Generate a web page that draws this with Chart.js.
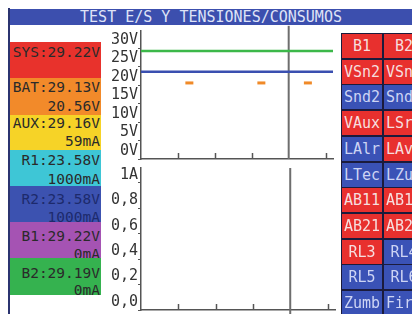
<!DOCTYPE html>
<html>
<head>
<meta charset="utf-8">
<script src="https://cdn.jsdelivr.net/npm/chart.js@4.4.0/dist/chart.umd.min.js"></script>
<style>
html, body { margin: 0; padding: 0; background: #fff; }
body { width: 412px; height: 314px; position: relative; overflow: hidden; font-family: "DejaVu Sans Mono", monospace; }
#frame { position: absolute; left: 8px; top: 8px; width: 2px; height: 306px; background: #2b3470; }
#title { position: absolute; left: 10px; top: 9px; width: 402px; height: 16px; background: #3c4fae; color: #dfe3f7; font-size: 15px; line-height: 16px; text-align: center; white-space: pre; }
.box { position: absolute; left: 10px; width: 91px; }
.box span { position: absolute; right: 1px; font-size: 14.5px; line-height: 15px; color: #2a2a2a; white-space: pre; }
.wrap { position: absolute; left: 100px; width: 240px; }
#topWrap { top: 24px; height: 142px; }
#botWrap { top: 164px; height: 150px; }
.btn { position: absolute; width: 40px; height: 24px; border: 1px solid #1b1b3c; font-size: 15px; line-height: 24px; text-align: center; white-space: pre; overflow: hidden; }
</style>
</head>
<body>
<div id="frame"></div>
<div id="title">TEST E/S Y TENSIONES/CONSUMOS</div>
<div id="chan"></div>
<div class="wrap" id="topWrap"><canvas id="topChart"></canvas></div>
<div class="wrap" id="botWrap"><canvas id="botChart"></canvas></div>
<div id="btns"></div>
<script>
// channel panel
const chNames = ["SYS", "BAT", "AUX", "R1", "R2", "B1", "B2"];
const chVolts = ["29.22V", "29.13V", "29.16V", "23.58V", "23.58V", "29.22V", "29.19V"];
const chExtra = ["", "20.56V", "59mA", "1000mA", "1000mA", "0mA", "0mA"];
const chColors = ["#e8322c", "#f28a2a", "#f6d327", "#3ec6d6", "#3c52b0", "#a553b3", "#35b24f"];

// top chart (volts)
const vTicks = [0, 5, 10, 15, 20, 25, 30];
const vLabels = ["0V", "5V", "10V", "15V", "20V", "25V", "30V"];
const xTicks = [1, 2, 3, 5];
const cursorX = 4;
const greenLevel = 29.22;
const blueLevel = 23.58;
const batLevel = 20.56;
const batMarks = [1.31, 3.26, 4.52];

// bottom chart (amps)
const aTicks = [0, 0.2, 0.4, 0.6, 0.8, 1];
const aLabels = ["0,0", "0,2", "0,4", "0,6", "0,8", "1A"];

// buttons
const btnLeft = ["B1", "VSn2", "Snd2", "VAux", "LAlr", "LTec", "AB11", "AB21", "RL3", "RL5", "Zumb"];
const btnRight = ["B2", "VSn1", "Snd1", "LSrn", "LAvr", "LZum", "AB12", "AB22", "RL4", "RL6", "Fire"];
const leftRed = [1, 1, 0, 1, 0, 0, 1, 1, 1, 0, 0];
const rightRed = [1, 1, 0, 1, 1, 0, 1, 1, 0, 0, 0];

// --- left panel
const boxTop = [42, 78, 115, 150, 186, 222, 258, 295];
const line1 = [52.5, 87, 123, 160.5, 199, 236.5, 273];
const line2 = [0, 106, 141.5, 179, 217, 254, 290];
const chan = document.getElementById("chan");
chNames.forEach((n, i) => {
    const b = document.createElement("div");
    b.className = "box";
    b.style.top = boxTop[i] + "px";
    b.style.height = (boxTop[i + 1] - boxTop[i]) + "px";
    b.style.background = chColors[i];
    const txtColor = i === 4 ? "#1d2a6c" : "#2a2a2a";
    b.innerHTML = `<span style="top:${line1[i] - boxTop[i] - 7.5}px;color:${txtColor}">${n}:${chVolts[i]}</span>` +
        (chExtra[i] ? `<span style="top:${line2[i] - boxTop[i] - 7.5}px;color:${txtColor}">${chExtra[i]}</span>` : "");
    chan.appendChild(b);
});

// --- buttons
const btns = document.getElementById("btns");
btnLeft.forEach((t, i) => {
    [[t, leftRed[i], 341], [btnRight[i], rightRed[i], 383]].forEach(([txt, red, x]) => {
        const d = document.createElement("div");
        d.className = "btn";
        d.textContent = txt;
        d.style.left = x + "px";
        d.style.top = (33 + i * 25.7) + "px";
        d.style.background = red ? "#e8302e" : "#3a52b6";
        d.style.color = red ? "#f6dede" : "#cdd4f4";
        btns.appendChild(d);
    });
});

// --- charts
const axisColor = "#555";

const upTicks = {
    id: "upTicks",
    afterDatasetsDraw(chart) {
        const { ctx, scales: { x }, chartArea } = chart;
        ctx.save();
        ctx.strokeStyle = axisColor;
        ctx.lineWidth = 1.5;
        xTicks.forEach(v => {
            const px = Math.round(x.getPixelForValue(v)) + 0.5;
            ctx.beginPath();
            ctx.moveTo(px, chartArea.bottom);
            ctx.lineTo(px, chartArea.bottom - 6);
            ctx.stroke();
        });
        ctx.restore();
    }
};

function makeOptions(yMax, ticks, labels) {
    return {
        responsive: true,
        maintainAspectRatio: false,
        animation: false,
        layout: { padding: { top: 4, right: 5, left: 0, bottom: 0 } },
        plugins: { legend: { display: false }, tooltip: { enabled: false } },
        scales: {
            x: {
                type: "linear",
                min: 0,
                max: 5.2,
                grid: { display: false },
                border: { display: true, color: axisColor, width: 1.5 },
                ticks: { display: false },
                afterFit: s => { s.height = 4; s.paddingLeft = 0; s.paddingRight = 0; }
            },
            y: {
                type: "linear",
                min: 0,
                max: yMax,
                afterBuildTicks: s => { s.ticks = ticks.map(v => ({ value: v })); },
                grid: { display: true, drawOnChartArea: false, drawTicks: true, tickLength: 3, color: axisColor, lineWidth: 1 },
                border: { display: true, color: axisColor, width: 1.5 },
                ticks: {
                    autoSkip: false,
                    padding: 0,
                    labelOffset: -8,
                    color: "#333",
                    font: { family: "DejaVu Sans Mono", size: 15 },
                    callback: v => labels[ticks.indexOf(v)]
                },
                afterFit: s => { s.width = 41; s.paddingTop = 0; s.paddingBottom = 0; }
            }
        }
    };
}

new Chart(document.getElementById("topChart"), {
    type: "line",
    data: {
        datasets: [
            { data: [{ x: 0, y: greenLevel }, { x: 5.2, y: greenLevel }], borderColor: "#3cb84a", borderWidth: 2.5, pointRadius: 0 },
            { data: [{ x: 0, y: blueLevel }, { x: 5.2, y: blueLevel }], borderColor: "#3a4fb0", borderWidth: 2.5, pointRadius: 0 },
            { data: batMarks.map(x => ({ x, y: batLevel })), showLine: false, pointStyle: "line", pointRadius: 4, borderWidth: 3, borderColor: "#f08a28" },
            { data: [{ x: cursorX, y: 0 }, { x: cursorX, y: 36 }], borderColor: "#6e6e6e", borderWidth: 2, pointRadius: 0, clip: false }
        ]
    },
    options: makeOptions(34.6, vTicks, vLabels),
    plugins: [upTicks]
});

new Chart(document.getElementById("botChart"), {
    type: "line",
    data: {
        datasets: [
            { data: [{ x: cursorX, y: -0.04 }, { x: cursorX, y: 1.118 }], borderColor: "#6e6e6e", borderWidth: 2, pointRadius: 0, clip: false }
        ]
    },
    options: makeOptions(1.118, aTicks, aLabels),
    plugins: [upTicks]
});
</script>
</body>
</html>
